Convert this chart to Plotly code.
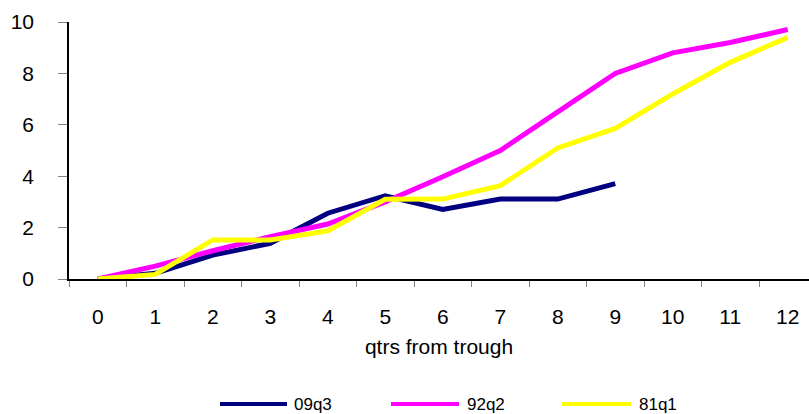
import plotly.graph_objects as go

quarters = [str(i) for i in range(13)]
s_09q3 = [0, 0.22, 0.93, 1.39, 2.56, 3.24, 2.71, 3.11, 3.11, 3.71]
s_92q2 = [0, 0.5, 1.1, 1.65, 2.14, 3.0, 3.98, 5.0, 6.5, 8.0, 8.8, 9.2, 9.71]
s_81q1 = [0, 0.18, 1.52, 1.52, 1.87, 3.1, 3.11, 3.63, 5.1, 5.86, 7.2, 8.43, 9.4]
series_names = ["09q3", "92q2", "81q1"]
series_values = [s_09q3, s_92q2, s_81q1]
colors = ["#000080", "#FF00FF", "#FFFF00"]
y_ticks = [0, 2, 4, 6, 8, 10]

W, H = 809, 414
ML, MR, MT, MB = 69, 0, 22, 135
PW = W - ML - MR
PH = H - MT - MB
spacing = 57.5

fig = go.Figure()
for name, vals, col in zip(series_names, series_values, colors):
    fig.add_trace(go.Scatter(
        x=quarters[:len(vals)], y=vals, mode="lines", name=name,
        line=dict(color=col, width=5), showlegend=False,
    ))

FONT = "Liberation Sans, Arial, sans-serif"

# custom legend
def px_x(p):
    return (p - ML) / PW

def px_y(p):
    return (MT + PH - p) / PH

leg_pos = [(220, 287, 292), (391, 459, 465), (562, 631, 637)]
ly = px_y(404)
for (x0, x1, tx), name, col in zip(leg_pos, series_names, colors):
    fig.add_shape(type="line", xref="paper", yref="paper",
                  x0=px_x(x0), x1=px_x(x1), y0=ly, y1=ly,
                  line=dict(color=col, width=4))
    fig.add_annotation(xref="paper", yref="paper", x=px_x(tx), y=ly,
                       text=name, showarrow=False, xanchor="left", yanchor="middle",
                       font=dict(family=FONT, size=17, color="black"))

fig.update_layout(
    width=W, height=H,
    margin=dict(l=ML, r=MR, t=MT, b=MB),
    paper_bgcolor="white", plot_bgcolor="white",
    font=dict(family=FONT, color="black"),
    showlegend=False,
)
fig.update_xaxes(
    type="category", categoryorder="array", categoryarray=quarters,
    range=[-0.5, -0.5 + PW / spacing],
    tickson="boundaries", ticks="outside", ticklen=6, tickcolor="#808080",
    showline=True, linecolor="black", linewidth=1.5, showgrid=False, zeroline=False,
    tickfont=dict(family=FONT, size=21, color="black"),
    ticklabelstandoff=18,
    title=dict(text="qtrs from trough", font=dict(family=FONT, size=21, color="black"), standoff=12),
)
fig.update_yaxes(
    range=[0, 10], tickvals=y_ticks, ticktext=[str(v) for v in y_ticks],
    ticks="outside", ticklen=9, tickcolor="#808080",
    showline=True, linecolor="black", linewidth=1.5, showgrid=False, zeroline=False,
    tickfont=dict(family=FONT, size=21, color="black"),
    ticklabelstandoff=20,
)

fig.write_html(
    "out.html",
    config={"displayModeBar": False},
    post_script="document.body.style.margin='0';document.body.style.overflow='hidden';",
)
